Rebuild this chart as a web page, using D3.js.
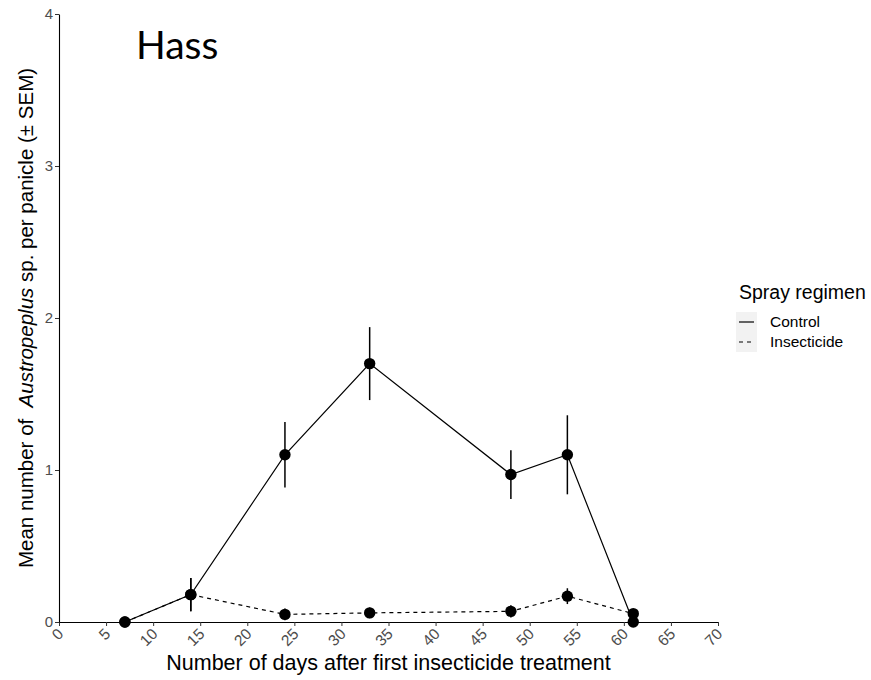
<!DOCTYPE html>
<html>
<head>
<meta charset="utf-8">
<script src="https://cdn.jsdelivr.net/npm/d3@7"></script>
<style>
  body { margin: 0; background: #fff; }
  svg { display: block; }
</style>
</head>
<body>
<svg id="chart" width="871" height="680"></svg>
<script>
// Sampling days after the first insecticide treatment
const days = [7, 14, 24, 33, 48, 54, 61];

// Mean Austropeplus sp. per panicle and SEM for each spray regimen
const controlMean = [0, 0.18, 1.10, 1.70, 0.97, 1.10, 0];
const controlSem  = [0, 0.11, 0.215, 0.24, 0.16, 0.26, 0];
const insectMean  = [0, 0.18, 0.05, 0.06, 0.07, 0.17, 0.055];
const insectSem   = [0, 0.11, 0.038, 0.035, 0.04, 0.052, 0.012];

const xTicks = [0, 5, 10, 15, 20, 25, 30, 35, 40, 45, 50, 55, 60, 65, 70];
const yTicks = [0, 1, 2, 3, 4];

const regimens = ["Control", "Insecticide"];
const dashes = { Control: null, Insecticide: "4,4" };

const series = [
  { name: "Control", mean: controlMean, sem: controlSem },
  { name: "Insecticide", mean: insectMean, sem: insectSem }
].map(s => ({
  name: s.name,
  values: days.map((d, i) => ({ day: d, mean: s.mean[i], sem: s.sem[i] }))
}));

const svg = d3.select("#chart");

const x = d3.scaleLinear().domain([0, 70]).range([59, 718]);
const y = d3.scaleLinear().domain([0, 4]).range([622, 14]);

const font = "'Liberation Sans', Arial, sans-serif";
const tickGrey = "#4d4d4d";

// X axis with rotated tick labels
const xAxis = svg.append("g")
  .attr("transform", `translate(0,${y(0)})`)
  .call(d3.axisBottom(x).tickValues(xTicks).tickSize(4).tickSizeOuter(0));
xAxis.select(".domain").attr("stroke", "#000").attr("stroke-width", 1.1);
xAxis.selectAll(".tick line").attr("stroke", "#333");
xAxis.selectAll(".tick text")
  .attr("fill", tickGrey)
  .style("font-family", font)
  .style("font-size", "15.5px")
  .attr("text-anchor", "end")
  .attr("x", 0)
  .attr("y", 0)
  .attr("dy", "0.35em")
  .attr("transform", "translate(1,9) rotate(-45)");

// Y axis
const yAxis = svg.append("g")
  .attr("transform", `translate(${x(0)},0)`)
  .call(d3.axisLeft(y).tickValues(yTicks).tickFormat(d3.format("d")).tickSize(4).tickPadding(2).tickSizeOuter(0));
yAxis.select(".domain").attr("stroke", "#000").attr("stroke-width", 1.1);
yAxis.selectAll(".tick line").attr("stroke", "#333");
yAxis.selectAll(".tick text")
  .attr("fill", tickGrey)
  .style("font-family", font)
  .style("font-size", "15px");

// Axis titles
svg.append("text")
  .attr("x", (x(0) + x(70)) / 2)
  .attr("y", 670)
  .attr("text-anchor", "middle")
  .style("font-family", font)
  .style("font-size", "21.5px")
  .text("Number of days after first insecticide treatment");

const yTitle = svg.append("text")
  .attr("transform", `translate(33,${(y(0) + y(4)) / 2}) rotate(-90)`)
  .attr("text-anchor", "middle")
  .style("font-family", font)
  .style("font-size", "20.5px")
  .style("white-space", "pre");
yTitle.append("tspan").text("Mean number of  ");
yTitle.append("tspan").style("font-style", "italic").text("Austropeplus");
yTitle.append("tspan").text(" sp. per panicle (\u00b1 SEM)");

// Panel title
svg.append("text")
  .attr("x", 136)
  .attr("y", 59)
  .style("font-family", "Lato, 'Open Sans', sans-serif")
  .style("font-size", "39px")
  .attr("fill", "#000")
  .text("Hass");

// Lines, error bars and points
const line = d3.line().x(d => x(d.day)).y(d => y(d.mean));

const groups = svg.append("g").selectAll("g.series")
  .data(series)
  .join("g")
  .attr("class", "series");

groups.append("path")
  .attr("d", d => line(d.values))
  .attr("fill", "none")
  .attr("stroke", "#000")
  .attr("stroke-width", 1.2)
  .attr("stroke-dasharray", d => dashes[d.name]);

groups.selectAll("line.err")
  .data(d => d.values.filter(v => v.sem > 0))
  .join("line")
  .attr("class", "err")
  .attr("x1", d => x(d.day))
  .attr("x2", d => x(d.day))
  .attr("y1", d => y(d.mean - d.sem))
  .attr("y2", d => y(d.mean + d.sem))
  .attr("stroke", "#000")
  .attr("stroke-width", 1.5);

groups.selectAll("circle")
  .data(d => d.values)
  .join("circle")
  .attr("cx", d => x(d.day))
  .attr("cy", d => y(d.mean))
  .attr("r", 5.7)
  .attr("fill", "#000");

// Legend
const legend = svg.append("g").attr("transform", "translate(739,0)");
legend.append("text")
  .attr("x", 0)
  .attr("y", 299)
  .style("font-family", font)
  .style("font-size", "19.5px")
  .text("Spray regimen");

const keys = legend.selectAll("g.key")
  .data(regimens)
  .join("g")
  .attr("class", "key")
  .attr("transform", (d, i) => `translate(0,${312 + i * 20})`);

keys.append("rect")
  .attr("x", -3)
  .attr("y", 0)
  .attr("width", 21)
  .attr("height", 20)
  .attr("fill", "#f2f2f2");

keys.append("line")
  .attr("x1", 0)
  .attr("x2", 15)
  .attr("y1", 10)
  .attr("y2", 10)
  .attr("stroke", "#000")
  .attr("stroke-width", 1.2)
  .attr("stroke-dasharray", d => dashes[d] ? "4,4" : null);

keys.append("text")
  .attr("x", 31)
  .attr("y", 10)
  .attr("dy", "0.35em")
  .style("font-family", font)
  .style("font-size", "15.5px")
  .text(d => d);
</script>
</body>
</html>
